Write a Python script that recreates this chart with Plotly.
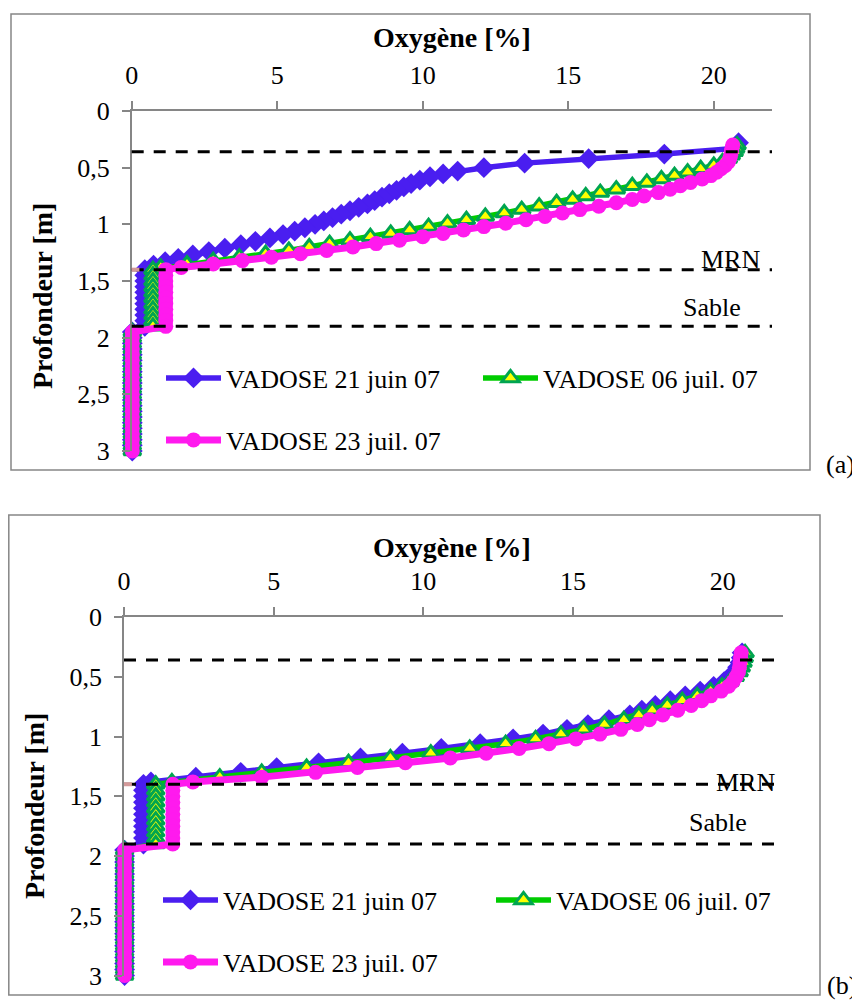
import plotly.graph_objects as go

# ---------------- DATA ----------------
# shared depth sections [m]
depth_col = [1.40, 1.45, 1.50, 1.55, 1.60, 1.65, 1.70, 1.75, 1.80, 1.85, 1.90]
depth_deep = [1.95, 2.00, 2.05, 2.10, 2.15, 2.20, 2.25, 2.30, 2.35, 2.40, 2.45,
              2.50, 2.55, 2.60, 2.65, 2.70, 2.75, 2.80, 2.85, 2.90, 2.95, 3.00]

# ---- chart (a) ----
depth_up_blue_a = [0.28, 0.33, 0.38, 0.42, 0.46, 0.50, 0.53, 0.555, 0.58, 0.61, 0.64,
                   0.67, 0.70, 0.73, 0.76, 0.79, 0.82, 0.85, 0.88, 0.91, 0.94, 0.97,
                   1.00, 1.03, 1.06, 1.09, 1.12, 1.15, 1.18, 1.21, 1.24, 1.27, 1.30,
                   1.33, 1.36]
oxy_up_blue_a = [20.85, 20.7, 18.3, 15.7, 13.5, 12.1, 11.2, 10.7, 10.25, 9.9, 9.6,
                 9.35, 9.1, 8.85, 8.6, 8.35, 8.1, 7.8, 7.5, 7.2, 6.9, 6.6,
                 6.3, 5.95, 5.6, 5.2, 4.75, 4.25, 3.75, 3.2, 2.65, 2.1, 1.6,
                 1.15, 0.75]
depth_up_a = [0.30, 0.33, 0.36, 0.39, 0.42, 0.45, 0.48, 0.51, 0.54, 0.57, 0.60, 0.63,
              0.66, 0.69, 0.72, 0.75, 0.78, 0.81, 0.84, 0.87, 0.90, 0.93, 0.96, 0.99,
              1.02, 1.05, 1.08, 1.11, 1.14, 1.17, 1.20, 1.23, 1.26, 1.29, 1.32, 1.35, 1.38]
oxy_up_green_a = [20.8, 20.75, 20.7, 20.6, 20.5, 20.3, 20.0, 19.55, 19.1, 18.65, 18.2, 17.7,
                  17.2, 16.65, 16.1, 15.6, 15.15, 14.6, 14.0, 13.4, 12.8, 12.15, 11.5, 10.85,
                  10.2, 9.55, 8.9, 8.2, 7.5, 6.8, 6.1, 5.4, 4.6, 3.7, 2.8, 1.9, 1.0]
oxy_up_pink_a = [20.65, 20.62, 20.6, 20.58, 20.55, 20.5, 20.4, 20.25, 20.1, 19.9, 19.6, 19.2,
                 18.85, 18.5, 18.1, 17.6, 17.2, 16.65, 16.05, 15.4, 14.8, 14.2, 13.55, 12.85,
                 12.1, 11.4, 10.7, 10.0, 9.2, 8.4, 7.6, 6.7, 5.8, 4.8, 3.8, 2.8, 1.7]
oxy_col_blue_a = [0.45, 0.45, 0.45, 0.45, 0.45, 0.45, 0.45, 0.45, 0.45, 0.45, 0.45]
oxy_col_green_a = [0.73, 0.73, 0.73, 0.73, 0.73, 0.73, 0.73, 0.73, 0.73, 0.73, 0.73]
oxy_col_pink_a = [1.17, 1.17, 1.17, 1.17, 1.17, 1.17, 1.17, 1.17, 1.17, 1.17, 1.17]

# ---- chart (b) ----
depth_up_b = [0.30, 0.34, 0.38, 0.42, 0.46, 0.50, 0.54, 0.58, 0.62, 0.66, 0.70, 0.74, 0.78, 0.82,
              0.86, 0.90, 0.94, 0.98, 1.02, 1.06, 1.10, 1.14, 1.18, 1.22, 1.26, 1.30, 1.34, 1.38]
oxy_up_blue_b = [20.65, 20.62, 20.58, 20.5, 20.4, 20.25, 20.05, 19.7, 19.25, 18.75, 18.25, 17.75,
                 17.3, 16.9, 16.2, 15.5, 14.8, 14.0, 13.0, 11.9, 10.6, 9.3, 7.9, 6.5, 5.1, 3.9,
                 2.4, 0.9]
oxy_up_green_b = [20.75, 20.72, 20.68, 20.62, 20.55, 20.42, 20.25, 19.98, 19.6, 19.15, 18.65, 18.15,
                  17.65, 17.2, 16.7, 16.05, 15.35, 14.6, 13.75, 12.75, 11.55, 10.25, 8.9, 7.5, 6.1,
                  4.6, 3.2, 1.6]
oxy_up_pink_b = [20.62, 20.6, 20.58, 20.56, 20.53, 20.45, 20.35, 20.2, 19.95, 19.6, 19.3, 18.95,
                 18.5, 18.0, 17.55, 17.15, 16.6, 15.9, 15.1, 14.2, 13.2, 12.1, 10.9, 9.4, 7.8,
                 6.4, 4.6, 2.3]
oxy_col_blue_b = [0.65, 0.65, 0.65, 0.65, 0.65, 0.65, 0.65, 0.65, 0.65, 0.65, 0.65]
oxy_col_green_b = [1.06, 1.06, 1.06, 1.06, 1.06, 1.06, 1.06, 1.06, 1.06, 1.06, 1.06]
oxy_col_pink_b = [1.63, 1.63, 1.63, 1.63, 1.63, 1.63, 1.63, 1.63, 1.63, 1.63, 1.63]

# deep (sand below) values, same for all
oxy_deep = [0.02, 0.02, 0.02, 0.02, 0.02, 0.02, 0.02, 0.02, 0.02, 0.02, 0.02,
            0.02, 0.02, 0.02, 0.02, 0.02, 0.02, 0.02, 0.02, 0.02, 0.02, 0.02]

series_names = ["VADOSE 21 juin 07", "VADOSE 06 juil. 07", "VADOSE 23 juil. 07"]
layer_depths = [0.36, 1.40, 1.90]
x_ticks = [0, 5, 10, 15, 20]
y_ticks = [0, 0.5, 1, 1.5, 2, 2.5, 3]
y_ticktext = ["0", "0,5", "1", "1,5", "2", "2,5", "3"]

# ---------------- STYLE ----------------
OFF = 8                      # page body margin of the browser
W, H = 860 - OFF, 1002 - OFF
FONT = "'Liberation Serif', 'Times New Roman', serif"
BLUE = "#4A1EF0"
GREEN = "#00CC00"
GREEN_EDGE = "#00A550"
YELLOW = "#FFFF00"
PINK = "#FF1AEE"
GRAY = "#868686"


def px(x):
    return (x - OFF) / W


def py(y):
    return 1 - (y - OFF) / H


fig = go.Figure()


def add_chart(xa, ya, blue, green, pink, legs):
    (dblue, xblue), (dgreen, xgreen), (dpink, xpink) = blue, green, pink
    fig.add_trace(go.Scatter(
        x=xblue, y=dblue, name=series_names[0], mode="lines+markers",
        xaxis=xa, yaxis=ya, legend=legs[0], cliponaxis=False,
        line=dict(color=BLUE, width=5.5),
        marker=dict(symbol="diamond", size=16, color=BLUE)))
    fig.add_trace(go.Scatter(
        x=xgreen, y=dgreen, name=series_names[1], mode="lines+markers",
        xaxis=xa, yaxis=ya, legend=legs[1], cliponaxis=False,
        line=dict(color=GREEN, width=5.5),
        marker=dict(symbol="triangle-up", size=15, color=YELLOW,
                    line=dict(color=GREEN_EDGE, width=3))))
    fig.add_trace(go.Scatter(
        x=xpink, y=dpink, name=series_names[2], mode="lines+markers",
        xaxis=xa, yaxis=ya, legend=legs[2], cliponaxis=False,
        line=dict(color=PINK, width=7),
        marker=dict(symbol="circle", size=15, color=PINK)))


add_chart("x", "y",
          (depth_up_blue_a + depth_col + depth_deep, oxy_up_blue_a + oxy_col_blue_a + oxy_deep),
          (depth_up_a + depth_col + depth_deep, oxy_up_green_a + oxy_col_green_a + oxy_deep),
          (depth_up_a + depth_col + depth_deep, oxy_up_pink_a + oxy_col_pink_a + oxy_deep),
          ("legend", "legend2", "legend3"))
add_chart("x2", "y2",
          (depth_up_b + depth_col + depth_deep, oxy_up_blue_b + oxy_col_blue_b + oxy_deep),
          (depth_up_b + depth_col + depth_deep, oxy_up_green_b + oxy_col_green_b + oxy_deep),
          (depth_up_b + depth_col + depth_deep, oxy_up_pink_b + oxy_col_pink_b + oxy_deep),
          ("legend4", "legend5", "legend6"))

tickfont = dict(family=FONT, size=26, color="black")
xcommon = dict(range=[0, 22], side="top", tickvals=x_ticks, ticks="outside", ticklen=8,
               tickcolor=GRAY, tickwidth=1.5, showline=True, linecolor=GRAY, linewidth=1.5,
               showgrid=False, zeroline=False, tickfont=tickfont, ticklabelstandoff=7,
               automargin=False)
ycommon = dict(range=[3, 0], tickvals=y_ticks, ticktext=y_ticktext, ticks="outside",
               ticklen=8, tickcolor=GRAY, tickwidth=1.5, showline=True, linecolor=GRAY,
               linewidth=1.5, showgrid=False, zeroline=False, tickfont=tickfont,
               ticklabelstandoff=7, automargin=False)

fig.update_layout(
    width=W, height=H, margin=dict(l=0, r=0, t=0, b=0, autoexpand=False),
    paper_bgcolor="white", plot_bgcolor="white", showlegend=True,
    xaxis=dict(domain=[px(131.7), px(772)], anchor="y", **xcommon),
    yaxis=dict(domain=[py(451), py(111)], anchor="x", **ycommon),
    xaxis2=dict(domain=[px(124), px(782.5)], anchor="y2", **xcommon),
    yaxis2=dict(domain=[py(975.5), py(617)], anchor="x2", **ycommon),
)

legend_style = dict(orientation="v", xanchor="left", yanchor="middle", itemwidth=55,
                    bgcolor="rgba(0,0,0,0)", font=dict(family=FONT, size=26, color="black"))
fig.update_layout(
    legend=dict(x=px(161), y=py(378), **legend_style),
    legend2=dict(x=px(478), y=py(378), **legend_style),
    legend3=dict(x=px(161), y=py(440), **legend_style),
    legend4=dict(x=px(158), y=py(900), **legend_style),
    legend5=dict(x=px(491), y=py(900), **legend_style),
    legend6=dict(x=px(158), y=py(962), **legend_style),
)

shapes = []
# outer frames
shapes.append(dict(type="rect", xref="paper", yref="paper", x0=px(11), x1=px(810),
                   y0=py(470), y1=py(14), line=dict(color=GRAY, width=1.5)))
shapes.append(dict(type="rect", xref="paper", yref="paper", x0=px(8.8), x1=px(820),
                   y0=py(995), y1=py(515), line=dict(color=GRAY, width=1.5)))
# layer boundaries
for xr, yr in (("x domain", "y"), ("x2 domain", "y2")):
    for d in layer_depths:
        shapes.append(dict(type="line", xref=xr, yref=yr, x0=0, x1=1, y0=d, y1=d,
                           line=dict(color="black", width=3, dash="12px,10px"), layer="above"))
    shapes.append(dict(type="line", xref=xr, yref=yr, x0=0, x1=0.012, y0=layer_depths[1],
                       y1=layer_depths[1], line=dict(color="#D49A9A", width=4), layer="above"))
fig.update_layout(shapes=shapes)

title_font = dict(family=FONT, size=28, color="black")
txt_font = dict(family=FONT, size=26, color="black")


def label(text, x, y, font, angle=0):
    return dict(text=text, x=px(x), y=py(y), xref="paper", yref="paper", showarrow=False,
                xanchor="center", yanchor="middle", font=font, textangle=angle)


ann = [
    label("<b>Oxygène [%]</b>", 452, 38, title_font),
    label("<b>Profondeur [m]</b>", 42, 296, title_font, -90),
    label("<b>Oxygène [%]</b>", 452, 547, title_font),
    label("<b>Profondeur [m]</b>", 34, 806, title_font, -90),
    label("MRN", 730, 259, txt_font),
    label("Sable", 712, 307, txt_font),
    label("MRN", 745, 782, txt_font),
    label("Sable", 718, 822, txt_font),
    label("(a)", 840, 465, txt_font),
    label("(b)", 842, 985, txt_font),
]
fig.update_layout(annotations=ann)

fig.write_html("out.html")
